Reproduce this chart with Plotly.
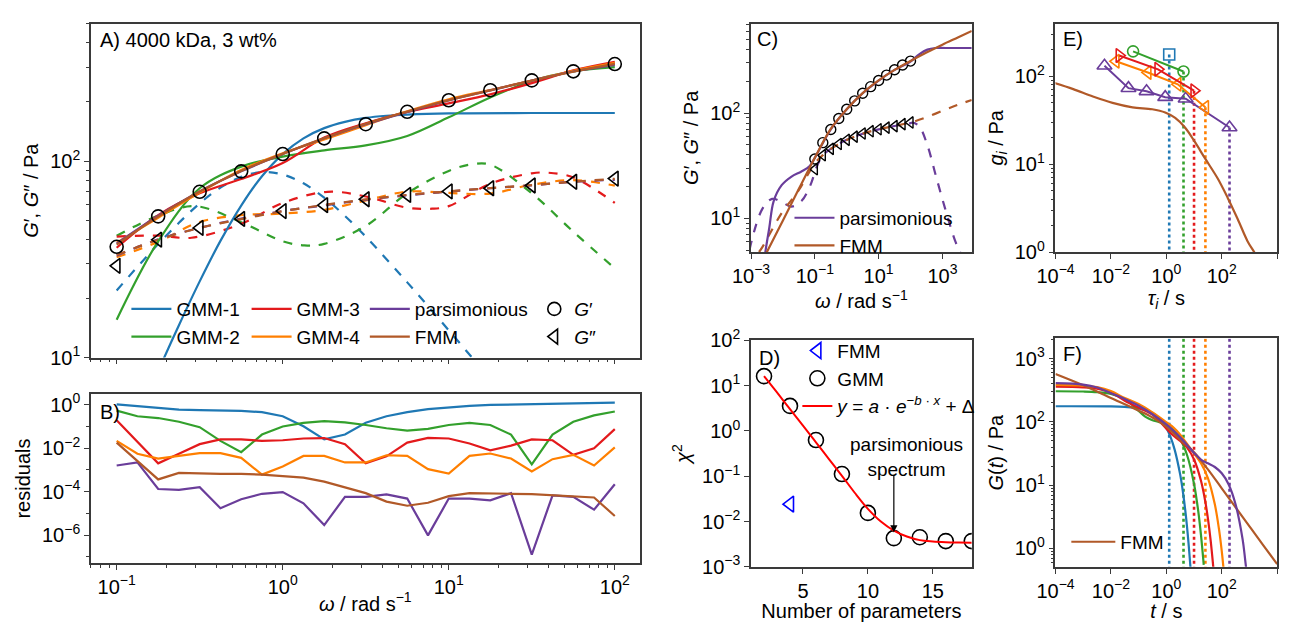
import numpy as np
import plotly.graph_objects as go

FONT = "Liberation Sans, Arial, Helvetica, sans-serif"
BLUE, GREEN, RED, ORANGE, PURPLE, BROWN = "#1f78b4", "#33a02c", "#e31a1c", "#ff7f00", "#6a3d9a", "#b15928"
AX = "#3a3a3a"

# ---------------- Panel A / C : measured moduli (log10 values) ----------------
OMEGA_LOG = [-1.0, -0.75, -0.5, -0.25, 0.0, 0.25, 0.5, 0.75, 1.0, 1.25, 1.5, 1.75, 2.0]
GP_LOG = [1.564, 1.719, 1.844, 1.948, 2.036, 2.116, 2.188, 2.251, 2.310, 2.361, 2.411, 2.457, 2.494]
GPP_LOG = [1.467, 1.600, 1.660, 1.706, 1.746, 1.776, 1.806, 1.828, 1.846, 1.862, 1.876, 1.895, 1.911]

# ---------------- Panel A : model curves (log10 omega, log10 modulus) ----------------
GMM1_GP_W = [-0.8, -0.75, -0.625, -0.5, -0.375, -0.25, -0.125, 0.0, 0.125, 0.25, 0.375, 0.5, 0.625, 0.75, 1.0, 1.5, 2.0]
GMM1_GP = [0.834, 0.932, 1.165, 1.388, 1.594, 1.774, 1.923, 2.036, 2.116, 2.168, 2.200, 2.220, 2.231, 2.237, 2.243, 2.245, 2.245]
GMM1_GPP_W = [-1.0, -0.875, -0.75, -0.625, -0.5, -0.375, -0.25, -0.125, 0.0, 0.125, 0.25, 0.375, 0.5, 0.75, 1.0, 1.25, 1.5]
GMM1_GPP = [1.342, 1.462, 1.578, 1.686, 1.785, 1.865, 1.920, 1.944, 1.932, 1.887, 1.814, 1.721, 1.616, 1.383, 1.139, 0.891, 0.640]

GMM2_GP = [1.193, 1.592, 1.862, 1.972, 2.023, 2.055, 2.080, 2.128, 2.223, 2.324, 2.408, 2.457, 2.478]
GMM2_GPP_W = [-1.0, -0.75, -0.53, -0.25, 0.0, 0.13, 0.25, 0.5, 0.75, 1.0, 1.145, 1.25, 1.5, 1.75, 2.0]
GMM2_GPP = [1.620, 1.722, 1.771, 1.689, 1.592, 1.571, 1.579, 1.670, 1.836, 1.950, 1.985, 1.982, 1.836, 1.641, 1.454]

GMM3_GP = [1.559, 1.725, 1.836, 1.909, 1.990, 2.120, 2.193, 2.250, 2.294, 2.340, 2.397, 2.462, 2.506]
GMM3_GPP_W = [-1.0, -0.75, -0.55, -0.25, 0.0, 0.27, 0.5, 0.75, 0.9, 1.0, 1.25, 1.5, 1.6, 1.75, 2.0]
GMM3_GPP = [1.616, 1.621, 1.610, 1.681, 1.787, 1.844, 1.820, 1.763, 1.758, 1.771, 1.885, 1.938, 1.941, 1.917, 1.787]

GMM4_GP = [1.585, 1.712, 1.840, 1.955, 2.040, 2.110, 2.183, 2.254, 2.315, 2.362, 2.410, 2.460, 2.500]
GMM4_GPP = [1.511, 1.589, 1.690, 1.725, 1.733, 1.752, 1.800, 1.845, 1.838, 1.835, 1.880, 1.903, 1.875]

PARS_GP = [1.580, 1.722, 1.846, 1.948, 2.036, 2.116, 2.188, 2.250, 2.309, 2.360, 2.410, 2.456, 2.490]
PARS_GPP = [1.519, 1.602, 1.660, 1.708, 1.746, 1.775, 1.803, 1.826, 1.845, 1.862, 1.877, 1.895, 1.905]
FMM_GP = [1.575, 1.718, 1.845, 1.950, 2.037, 2.117, 2.190, 2.252, 2.310, 2.360, 2.410, 2.455, 2.495]
FMM_GPP = [1.522, 1.600, 1.660, 1.705, 1.745, 1.777, 1.805, 1.828, 1.846, 1.863, 1.878, 1.895, 1.910]

# ---------------- Panel B : residuals (log10) ----------------
RES_W = [-1.0, -0.875, -0.75, -0.625, -0.5, -0.375, -0.25, -0.125, 0.0, 0.125, 0.25, 0.375, 0.5,
         0.625, 0.75, 0.875, 1.0, 1.125, 1.25, 1.375, 1.5, 1.625, 1.75, 1.875, 2.0]
RES_GMM1 = [0.01, -0.06, -0.16, -0.23, -0.26, -0.28, -0.29, -0.35, -0.54, -1.00, -1.60, -1.38, -0.84,
            -0.54, -0.35, -0.21, -0.13, -0.06, -0.02, 0.00, 0.03, 0.05, 0.07, 0.08, 0.09]
RES_GMM2 = [-0.28, -0.54, -0.62, -0.79, -1.04, -1.67, -2.19, -1.38, -1.01, -0.84, -0.76, -0.82, -0.94,
            -1.09, -1.20, -1.12, -0.94, -0.84, -0.94, -1.38, -2.75, -1.38, -0.79, -0.50, -0.32]
RES_GMM3 = [-0.72, -1.70, -2.70, -2.26, -1.82, -1.60, -1.60, -1.67, -1.64, -1.56, -1.54, -1.82, -2.70,
            -2.38, -1.75, -1.53, -1.56, -1.79, -2.10, -1.89, -1.60, -1.64, -2.31, -2.01, -1.13]
RES_GMM4 = [-1.67, -2.26, -2.48, -2.36, -2.23, -2.23, -2.45, -3.22, -2.85, -2.36, -2.36, -2.66, -2.66,
            -2.33, -2.36, -2.97, -3.17, -2.36, -2.25, -2.48, -3.07, -2.51, -2.31, -2.80, -1.97]
RES_PARS = [-2.80, -2.66, -3.88, -3.92, -3.80, -4.76, -4.35, -4.10, -4.02, -4.54, -5.54, -4.24, -4.24,
            -4.13, -4.32, -6.01, -4.32, -4.32, -4.40, -4.07, -6.89, -4.17, -4.24, -4.83, -3.66]
RES_FMM = [-1.75, -2.60, -3.44, -3.14, -3.17, -3.19, -3.19, -3.22, -3.29, -3.36, -3.54, -3.80, -4.07,
           -4.46, -4.65, -4.51, -4.21, -4.07, -4.07, -4.10, -4.12, -4.17, -4.24, -4.27, -5.12]

# ---------------- Panel C : wide-range predictions (log10) ----------------
C_PARS_GP_W = [-2.65, -2.55, -2.43, -2.29, -2.04, -1.73, -1.42, -1.16, -1.0, -0.5, 0.0, 0.5, 1.0, 1.5, 2.0, 2.27, 2.53, 2.78, 3.1, 3.92]
C_PARS_GP = [0.45, 0.682, 0.906, 1.164, 1.315, 1.397, 1.445, 1.497, 1.575, 1.846, 2.036, 2.188, 2.309, 2.410, 2.490, 2.558, 2.603, 2.618, 2.618, 2.618]
C_FMM_GP_W = [-2.6, -2.5, -2.0, -1.5, -1.0, -0.5, 0.0, 0.5, 1.0, 1.5, 2.0, 2.5, 3.0, 3.5, 3.92]
C_FMM_GP = [0.62, 0.682, 0.98, 1.28, 1.575, 1.850, 2.037, 2.190, 2.310, 2.410, 2.495, 2.575, 2.650, 2.720, 2.780]
C_PARS_GPP_W = [-3.05, -2.65, -2.34, -2.04, -1.73, -1.42, -1.16, -0.91, -0.75, -0.5, 0.0, 0.5, 1.0, 1.5, 2.0, 2.07,
                2.27, 2.53, 2.78, 3.09, 3.40, 3.55, 3.7]
C_PARS_GPP = [0.70, 1.088, 1.185, 1.155, 1.112, 1.164, 1.300, 1.512, 1.600, 1.660, 1.746, 1.803, 1.845, 1.877, 1.905, 1.910,
              1.876, 1.694, 1.421, 1.088, 0.785, 0.682, 0.55]
C_FMM_GPP_W = [-2.75, -2.65, -2.04, -1.52, -1.0, -0.75, -0.5, 0.0, 0.5, 1.0, 1.5, 2.0, 2.5, 3.09, 3.5, 3.92]
C_FMM_GPP = [0.68, 0.724, 1.05, 1.26, 1.522, 1.600, 1.660, 1.745, 1.805, 1.846, 1.878, 1.910, 1.960, 2.033, 2.080, 2.125]

# ---------------- Panel D : chi^2 vs number of parameters ----------------
D_NPAR = [2, 4, 6, 8, 10, 12, 14, 16, 18]
D_CHI2 = [16.2, 3.57, 0.63, 0.112, 0.0155, 0.0043, 0.0045, 0.0037, 0.0037]
D_FMM_NPAR = [4]
D_FMM_CHI2 = [0.0242]
D_FIT_N = [2, 3, 4, 5, 6, 7, 8, 9, 10, 11, 12, 13, 14, 15, 16, 17, 18]
D_FIT_LOG = [1.21, 0.85, 0.48, 0.12, -0.25, -0.62, -0.99, -1.37, -1.72, -2.00, -2.20, -2.33, -2.41, -2.44, -2.455, -2.462, -2.466]

# ---------------- Panel E : relaxation spectra (log10 tau, log10 g) ----------------
E_GMM1_TAU, E_GMM1_G = [0.104], [2.248]
E_GMM2_TAU, E_GMM2_G = [-1.20, 0.62], [2.284, 2.055]
E_GMM3_TAU, E_GMM3_G = [-1.70, -0.30, 1.00], [2.237, 2.080, 1.836]
E_GMM4_TAU, E_GMM4_G = [-1.82, -0.667, 0.413, 1.41], [2.171, 2.044, 1.909, 1.647]
E_PARS_TAU, E_PARS_G = [-2.232, -1.366, -0.714, -0.04, 0.698, 2.28], [2.120, 1.865, 1.829, 1.763, 1.745, 1.417]
E_FMM_TAU = [-4.1, -3.36, -2.65, -1.94, -1.22, -0.51, -0.04, 0.32, 0.674, 1.03, 1.386, 1.86, 2.216, 2.57, 2.93, 3.17, 3.3]
E_FMM_G = [1.93, 1.854, 1.770, 1.698, 1.647, 1.625, 1.588, 1.526, 1.417, 1.253, 1.071, 0.834, 0.616, 0.379, 0.124, 0.0, -0.08]

# ---------------- Panel F : relaxation moduli (log10 t, log10 G) ----------------
F_GMM1_T = [-4, -2, -1.5, -1, -0.5, -0.25, 0, 0.15, 0.3, 0.5, 0.6, 0.7, 0.8, 0.9]
F_GMM1_G = [2.248, 2.245, 2.237, 2.214, 2.140, 2.056, 1.906, 1.765, 1.563, 1.167, 0.889, 0.538, 0.09, -0.47]
F_GMM2_T = [-4, -3, -2.5, -2, -1.5, -1, -0.75, -0.5, -0.25, 0, 0.25, 0.5, 0.75, 1, 1.15, 1.25, 1.35]
F_GMM2_G = [2.485, 2.481, 2.471, 2.443, 2.360, 2.176, 2.079, 2.027, 1.997, 1.952, 1.871, 1.728, 1.474, 1.020, 0.595, 0.214, -0.26]
F_GMM3_T = [-4, -3, -2.5, -2, -1.5, -1, -0.5, 0, 0.25, 0.5, 0.75, 1, 1.25, 1.4, 1.5, 1.6, 1.7]
F_GMM3_G = [2.557, 2.547, 2.525, 2.463, 2.336, 2.223, 2.114, 1.894, 1.785, 1.700, 1.594, 1.406, 1.070, 0.756, 0.476, 0.125, -0.32]
F_GMM4_T = [-4, -3, -2.5, -2, -1.5, -1, -0.5, 0, 0.25, 0.5, 0.75, 1, 1.25, 1.5, 1.75, 1.9, 2.0, 2.1]
F_GMM4_G = [2.585, 2.573, 2.550, 2.488, 2.377, 2.283, 2.150, 1.996, 1.915, 1.800, 1.652, 1.503, 1.348, 1.113, 0.698, 0.305, -0.043, -0.48]
F_PARS_T = [-4, -3, -2.5, -2, -1.5, -1, -0.5, 0, 0.25, 0.5, 0.75, 1, 1.25, 1.5, 1.75, 2, 2.25, 2.5, 2.75, 2.85, 2.9]
F_PARS_G = [2.613, 2.590, 2.545, 2.455, 2.362, 2.255, 2.122, 1.960, 1.864, 1.756, 1.637, 1.509, 1.405, 1.346, 1.288,
            1.188, 1.012, 0.695, 0.152, -0.198, -0.39]
F_FMM_T = [-4, -3, -2, -1, -0.5, 0, 0.5, 1, 1.5, 2, 2.5, 3, 3.5, 4]
F_FMM_G = [2.758, 2.580, 2.380, 2.180, 2.070, 1.925, 1.720, 1.520, 1.250, 0.950, 0.650, 0.350, 0.050, -0.247]


def p10(a):
    return np.power(10.0, np.asarray(a, dtype=float))


fig = go.Figure()


def add(x, y, xa, ya, **kw):
    kw.setdefault("showlegend", False)
    fig.add_trace(go.Scatter(x=x, y=y, xaxis=xa, yaxis=ya, **kw))


def curve(x, y, xa, ya, color, dash="solid", width=2.2, shape="spline", **kw):
    add(p10(x), p10(y), xa, ya, mode="lines",
        line=dict(color=color, width=width, dash=dash, shape=shape), **kw)


W = OMEGA_LOG
# ---- Panel A ----
curve(GMM1_GPP_W, GMM1_GPP, "x", "y", BLUE, "dash")
curve(GMM2_GPP_W, GMM2_GPP, "x", "y", GREEN, "dash")
curve(GMM3_GPP_W, GMM3_GPP, "x", "y", RED, "dash")
curve(W, GMM4_GPP, "x", "y", ORANGE, "dash")
curve(W, PARS_GPP, "x", "y", PURPLE, "dash")
curve(W, FMM_GPP, "x", "y", BROWN, "dash")
curve(GMM1_GP_W, GMM1_GP, "x", "y", BLUE, name="GMM-1", showlegend=True, legend="legend")
curve(W, GMM2_GP, "x", "y", GREEN, name="GMM-2", showlegend=True, legend="legend")
curve(W, GMM3_GP, "x", "y", RED, name="GMM-3", showlegend=True, legend="legend2")
curve(W, GMM4_GP, "x", "y", ORANGE, name="GMM-4", showlegend=True, legend="legend2")
curve(W, PARS_GP, "x", "y", PURPLE, name="parsimonious", showlegend=True, legend="legend3")
curve(W, FMM_GP, "x", "y", BROWN, name="FMM", showlegend=True, legend="legend3")
add(p10(W), p10(GP_LOG), "x", "y", mode="markers", name="<i>G</i>′", showlegend=True, legend="legend4",
    marker=dict(symbol="circle-open", size=13, color="black", line=dict(width=1.6)))
add(p10(W), p10(GPP_LOG), "x", "y", mode="markers", name="<i>G</i>″", showlegend=True, legend="legend4",
    marker=dict(symbol="triangle-left-open", size=13, color="black", line=dict(width=1.6)))

# ---- Panel B ----
for res, col in [(RES_GMM1, BLUE), (RES_GMM2, GREEN), (RES_GMM3, RED), (RES_GMM4, ORANGE),
                 (RES_PARS, PURPLE), (RES_FMM, BROWN)]:
    curve(RES_W, res, "x2", "y2", col, shape="linear")

# ---- Panel C ----
curve(C_PARS_GPP_W, C_PARS_GPP, "x3", "y3", PURPLE, "dash")
curve(C_FMM_GPP_W, C_FMM_GPP, "x3", "y3", BROWN, "dash")
add(p10(W), p10(GP_LOG), "x3", "y3", mode="markers",
    marker=dict(symbol="circle-open", size=10, color="black", line=dict(width=1.4)))
add(p10(W), p10(GPP_LOG), "x3", "y3", mode="markers",
    marker=dict(symbol="triangle-left-open", size=10, color="black", line=dict(width=1.4)))
curve(C_PARS_GP_W, C_PARS_GP, "x3", "y3", PURPLE, name="parsimonious", showlegend=True, legend="legend5")
curve(C_FMM_GP_W, C_FMM_GP, "x3", "y3", BROWN, name="FMM", showlegend=True, legend="legend5")

# ---- Panel D ----
add(D_FMM_NPAR, D_FMM_CHI2, "x4", "y4", mode="markers", name="FMM", showlegend=True, legend="legend6",
    marker=dict(symbol="triangle-left-open", size=14, color="#0000ff", line=dict(width=1.6)))
add(D_NPAR, D_CHI2, "x4", "y4", mode="markers", name="GMM", showlegend=True, legend="legend6",
    marker=dict(symbol="circle-open", size=15, color="black", line=dict(width=1.6)))
add(D_FIT_N, p10(D_FIT_LOG), "x4", "y4", mode="lines", showlegend=True, legend="legend6",
    name="<i>y</i> = <i>a</i> · <i>e</i><sup>−<i>b</i> · <i>x</i></sup> + Δ",
    line=dict(color="#ff0000", width=2, shape="spline"))

# ---- Panel E ----
for tau, g, col in [(E_GMM1_TAU, E_GMM1_G, BLUE), (E_GMM2_TAU, E_GMM2_G, GREEN), (E_GMM3_TAU, E_GMM3_G, RED),
                    (E_GMM4_TAU, E_GMM4_G, ORANGE), (E_PARS_TAU, E_PARS_G, PURPLE)]:
    add(p10([tau[-1], tau[-1]]), [10 ** g[-1], 1.0], "x5", "y5", mode="lines",
        line=dict(color=col, width=2.6, dash="dot"))
    add(p10([tau[-1], tau[-1]]), [0.1, 1e5], "x6", "y6", mode="lines",
        line=dict(color=col, width=2.6, dash="dot"))
curve(E_FMM_TAU, E_FMM_G, "x5", "y5", BROWN)
for tau, g, col, sym, sz in [(E_PARS_TAU, E_PARS_G, PURPLE, "triangle-up-open", 13),
                             (E_GMM4_TAU, E_GMM4_G, ORANGE, "triangle-left-open", 12),
                             (E_GMM3_TAU, E_GMM3_G, RED, "triangle-right-open", 12),
                             (E_GMM2_TAU, E_GMM2_G, GREEN, "circle-open", 11),
                             (E_GMM1_TAU, E_GMM1_G, BLUE, "square-open", 11)]:
    add(p10(tau), p10(g), "x5", "y5", mode="lines+markers",
        line=dict(color=col, width=2),
        marker=dict(symbol=sym, size=sz, color=col, line=dict(width=1.6)))

# ---- Panel F ----
curve(F_GMM1_T, F_GMM1_G, "x6", "y6", BLUE)
curve(F_GMM2_T, F_GMM2_G, "x6", "y6", GREEN)
curve(F_GMM3_T, F_GMM3_G, "x6", "y6", RED)
curve(F_GMM4_T, F_GMM4_G, "x6", "y6", ORANGE)
curve(F_FMM_T, F_FMM_G, "x6", "y6", BROWN, name="FMM", showlegend=True, legend="legend7")
curve(F_PARS_T, F_PARS_G, "x6", "y6", PURPLE)


# ---------------- axes ----------------
def sup(e):
    return "10<sup>" + ("−" if e < 0 else "") + str(abs(e)) + "</sup>"


def minor_vals(e0, e1):
    return [k * 10.0 ** e for e in range(e0, e1) for k in range(2, 10)]


def base(domain, anchor, title=None, standoff=4):
    d = dict(domain=domain, anchor=anchor, showline=True, linecolor=AX, linewidth=1.5, mirror=True,
             ticks="outside", ticklen=5, tickwidth=1.2, tickcolor=AX, showgrid=False, zeroline=False,
             tickfont=dict(family=FONT, size=20, color="black"))
    if title:
        d["title"] = dict(text=title, font=dict(family=FONT, size=20, color="black"), standoff=standoff)
    return d


def logax(domain, anchor, rng, exps, minors=None, title=None, labels=True, standoff=4):
    d = base(domain, anchor, title, standoff)
    d.update(type="log", range=rng, tickmode="array", tickvals=[10.0 ** e for e in exps],
             ticktext=[sup(e) for e in exps], showticklabels=labels)
    if minors:
        d["minor"] = dict(tickmode="array", tickvals=minors, ticks="outside", ticklen=3,
                          tickwidth=1, tickcolor=AX, showgrid=False)
    return d


Wd, Hd = 1289, 622


def xd(a, b):
    return [a / Wd, b / Wd]


def yd(top, bot):
    return [1 - bot / Hd, 1 - top / Hd]


OMEGA_T = "<i>ω</i> / rad s<sup>−1</sup>"
GG_T = "<i>G</i>′, <i>G</i>″ / Pa"

layout = dict(
    width=Wd, height=Hd, autosize=False, margin=dict(l=0, r=0, t=0, b=0),
    paper_bgcolor="white", plot_bgcolor="white", font=dict(family=FONT, size=20, color="black"),
    xaxis=logax(xd(73, 630), "y", [-1.155, 2.15], [-1, 0, 1, 2], minor_vals(-2, 3), labels=False),
    yaxis=logax(yd(10, 358), "x", [1, 2.70], [1, 2], minor_vals(1, 3), title=GG_T, standoff=6),
    xaxis2=logax(xd(73, 630), "y2", [-1.155, 2.15], [-1, 0, 1, 2], minor_vals(-2, 3), title=OMEGA_T, standoff=0),
    yaxis2=logax(yd(396, 572), "x2", [-7.28, 0.48], [0, -2, -4, -6], [1e-1, 1e-3, 1e-5, 1e-7],
                 title="residuals", standoff=6),
    xaxis3=logax(xd(743, 967), "y3", [-3.0, 3.92], [-3, -1, 1, 3], title=OMEGA_T, standoff=0),
    yaxis3=logax(yd(10, 248), "x3", [0.68, 2.85], [1, 2], minor_vals(0, 3), title=GG_T, standoff=6),
    xaxis4=dict(base(xd(743, 967), "y4", "Number of parameters", 2), range=[1, 18], tickvals=[5, 10, 15]),
    yaxis4=logax(yd(340, 576), "x4", [-3, 2], [-3, -2, -1, 0, 1, 2], title="<i>χ</i><sup>2</sup>", standoff=6),
    xaxis5=logax(xd(1052, 1277), "y5", [-4, 4], [-4, -2, 0, 2, 4], title="<i>τ<sub>i</sub></i> / s", standoff=0),
    yaxis5=logax(yd(10, 248), "x5", [0, 2.6], [0, 1, 2], minor_vals(0, 3), title="<i>g<sub>i</sub></i> / Pa", standoff=6),
    xaxis6=logax(xd(1052, 1277), "y6", [-4, 4], [-4, -2, 0, 2, 4], title="<i>t</i> / s", standoff=0),
    yaxis6=logax(yd(338, 576), "x6", [-0.29, 3.32], [0, 1, 2, 3], minor_vals(-1, 4),
                 title="<i>G</i>(<i>t</i>) / Pa", standoff=6),
)

LEG = dict(font=dict(family=FONT, size=19, color="black"), bgcolor="rgba(0,0,0,0)", borderwidth=0,
           orientation="v", xanchor="left", yanchor="middle", tracegroupgap=0, itemclick=False,
           itemdoubleclick=False, itemwidth=40)


def leg(xpx, ypx, **kw):
    d = dict(LEG, x=xpx / Wd, y=1 - ypx / Hd)
    d.update(kw)
    return d


layout["legend"] = leg(109, 322)
layout["legend2"] = leg(231, 322)
layout["legend3"] = leg(351, 322)
layout["legend4"] = leg(523, 322, itemwidth=30)
layout["legend5"] = leg(782, 227)
layout["legend6"] = leg(790, 380, itemwidth=30)
layout["legend7"] = leg(1063, 550, itemwidth=44)


def label(text, xref, yref, x, y):
    return dict(text=text, xref=xref, yref=yref, x=x, y=y, xanchor="left", yanchor="top",
                showarrow=False, font=dict(family=FONT, size=20, color="black"))


annotations = [
    label("A) 4000 kDa, 3 wt%", "x domain", "y domain", 0.012, 0.99),
    label("B)", "x2 domain", "y2 domain", 0.012, 0.97),
    label("C)", "x3 domain", "y3 domain", 0.02, 0.99),
    label("D)", "x4 domain", "y4 domain", 0.025, 0.98),
    label("E)", "x5 domain", "y5 domain", 0.025, 0.99),
    label("F)", "x6 domain", "y6 domain", 0.025, 0.99),
    dict(text="parsimonious<br>spectrum", xref="x4", yref="y4", x=13.0, y=-0.585, showarrow=False,
         font=dict(family=FONT, size=19, color="black"), align="center"),
    dict(text="", xref="x4", yref="y4", x=12, y=-2.24, ax=12, ay=-0.95, axref="x4", ayref="y4",
         showarrow=True, arrowhead=2, arrowsize=1.2, arrowwidth=1.2, arrowcolor="black"),
]
layout["annotations"] = annotations

fig.update_layout(**layout)
fig.write_html("out.html")
